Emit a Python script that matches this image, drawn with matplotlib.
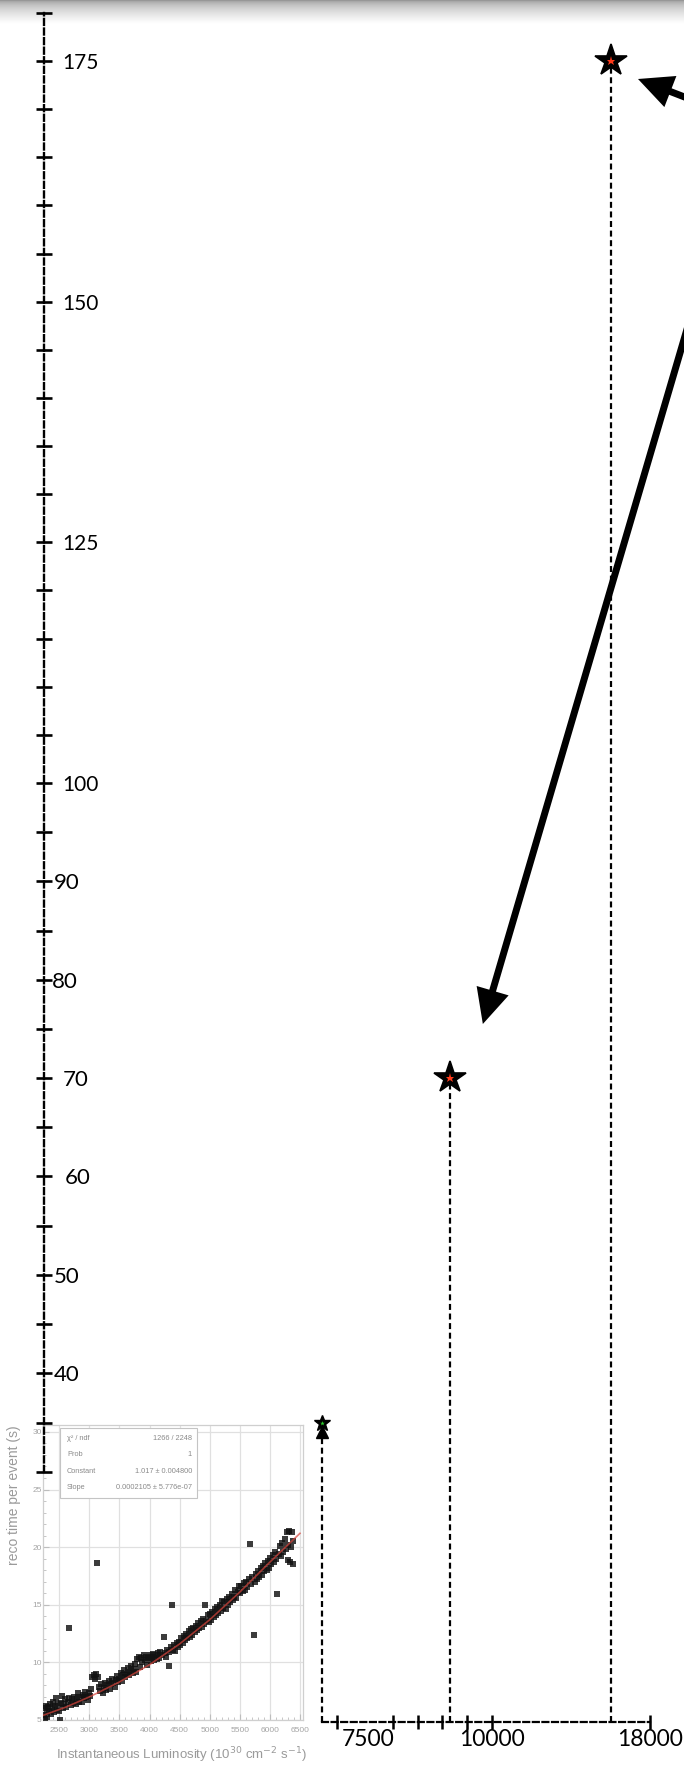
import numpy as np
import matplotlib
matplotlib.use("Agg")
import matplotlib.pyplot as plt
from matplotlib.transforms import ScaledTranslation
from matplotlib.patches import Rectangle
from matplotlib.ticker import MultipleLocator

plt.rcParams["font.family"] = ["Lato", "DejaVu Sans"]
plt.rcParams["lines.scale_dashes"] = False

# ---------------- data ----------------
# reconstruction time (s) against instantaneous luminosity (1e30 cm^-2 s^-1)
Y_TICKS = list(range(30, 181, 5))
Y_LABEL_VALUES = [40, 50, 60, 70, 80, 90, 100, 125, 150, 175]
X_LABEL_VALUES = [7500, 10000, 18000]
X_MINOR_VALUES = [7000, 8000, 8500, 9000, 9500]

STAR_LUMI = [6750, 9150, 16000]
STAR_TIME = [35, 70, 175]

# measured reco time per event (inset scatter)
SCAN_LUMI = [
    2240, 2255, 2265, 2280, 2290, 2300, 2315, 2330, 2345, 2360, 2380, 2395, 2410, 2430, 2450,
    2465, 2480, 2500, 2517, 2530, 2545, 2560, 2580, 2600, 2620, 2640, 2655, 2670, 2690, 2710,
    2730, 2750, 2770, 2790, 2810, 2830, 2850, 2870, 2890, 2910, 2930, 2950, 2970, 2990,
    3010, 3030, 3050, 3070, 3090, 3110, 3126, 3140, 3160, 3180, 3200, 3220, 3240, 3260, 3280,
    3300, 3320, 3340, 3360, 3380, 3400, 3420, 3440, 3460, 3480,
    3500, 3520, 3540, 3560, 3580, 3600, 3620, 3640, 3660, 3680, 3700, 3720, 3740, 3760, 3780,
    3800, 3820, 3840, 3860, 3880, 3900, 3920, 3940, 3960, 3980, 4000, 4020, 4040, 4060, 4080,
    4100, 4120, 4140, 4160, 4180, 4200, 4233, 4250, 4270, 4290, 4316, 4330, 4350, 4372, 4390,
    4410, 4430, 4450, 4470, 4490,
    4510, 4530, 4550, 4570, 4590, 4610, 4630, 4650, 4670, 4690, 4710, 4730, 4750, 4770, 4790,
    4810, 4830, 4850, 4870, 4890, 4910, 4925, 4945, 4965, 4985, 5005, 5025, 5045, 5065, 5085,
    5105, 5125, 5145, 5165, 5185, 5205, 5225, 5245, 5265, 5285, 5305, 5325, 5345, 5365, 5385,
    5405, 5425, 5445, 5465, 5485,
    5505, 5525, 5545, 5565, 5585, 5605, 5625, 5645, 5673, 5690, 5710, 5728, 5745, 5765, 5785,
    5805, 5825, 5845, 5865, 5885, 5905, 5925, 5945, 5965, 5985, 6005, 6025, 6045, 6065, 6085,
    6105, 6126, 6145, 6165, 6185, 6205, 6225, 6245, 6265, 6285, 6300, 6305, 6325, 6340, 6345,
    6365, 6380, 6385,
]
SCAN_TIME = [
    5.4, 6.0, 5.1, 6.2, 5.7, 5.3, 6.1, 5.8, 6.4, 5.5, 6.0, 6.6, 5.7, 6.2, 6.9,
    5.9, 6.4, 5.8, 5.0, 6.5, 7.1, 6.0, 6.4, 6.8, 6.1, 6.6, 13.0, 6.9, 6.3, 6.8,
    6.5, 7.0, 6.4, 6.8, 7.3, 6.6, 7.0, 6.6, 7.2, 6.9, 7.4, 7.0, 6.7, 7.3,
    7.1, 7.7, 8.7, 8.9, 8.6, 9.0, 18.6, 8.7, 7.9, 7.5, 8.1, 7.3, 7.8, 8.2, 7.6,
    8.0, 8.4, 7.7, 8.1, 8.6, 8.2, 7.9, 8.5, 8.8, 8.3,
    8.6, 9.1, 8.4, 8.9, 9.3, 8.7, 9.0, 9.5, 8.9, 9.2, 9.7, 9.1, 9.4, 9.9, 9.2,
    10.3, 10.5, 9.6, 10.4, 10.0, 10.6, 10.2, 10.5, 9.8, 10.4, 10.6, 10.1, 10.5, 10.7, 10.2,
    10.6, 10.3, 10.8, 10.4, 10.9, 10.6, 12.2, 10.8, 10.5, 11.1, 9.7, 10.9, 11.3, 15.0, 11.1,
    11.5, 11.0, 11.7, 11.3, 11.8,
    11.5, 12.1, 11.7, 12.3, 11.9, 12.5, 12.1, 12.7, 12.2, 12.9, 12.4, 13.0, 12.6, 13.2, 12.8,
    13.4, 13.0, 13.6, 13.1, 13.8, 13.3, 15.0, 13.6, 14.1, 13.5, 14.2, 13.7, 14.4, 13.9, 14.6,
    14.1, 14.8, 14.3, 15.0, 14.5, 15.3, 14.7, 15.2, 14.6, 15.5, 15.0, 15.7, 15.2, 15.9, 15.4,
    15.7, 16.3, 15.6, 16.1, 16.6,
    16.0, 16.6, 16.2, 16.9, 16.3, 17.0, 16.5, 17.2, 20.3, 16.8, 17.4, 12.4, 17.0, 17.7, 17.2,
    17.9, 17.4, 18.2, 17.6, 18.4, 17.9, 18.6, 18.0, 18.8, 18.2, 19.1, 18.5, 19.3, 18.7, 19.6,
    19.0, 15.9, 19.4, 20.1, 19.2, 20.4, 19.6, 20.7, 19.8, 21.3, 18.9, 20.2, 21.4, 18.7, 20.0,
    21.3, 18.5, 20.5,
]
FIT_LUMI = [2230, 2600, 3000, 3500, 4000, 4500, 5000, 5500, 6000, 6500]
FIT_TIME = [5.4, 6.1, 7.0, 8.3, 9.8, 11.6, 13.7, 16.1, 18.7, 21.2]

INSET_X_TICKS = [2500, 3000, 3500, 4000, 4500, 5000, 5500, 6000, 6500]
INSET_Y_TICKS = [5, 10, 15, 20, 25, 30]
STATS_NAMES = ["χ² / ndf", "Prob", "Constant", "Slope"]
STATS_VALUES = ["1266 / 2248", "1", "1.017 ± 0.004800", "0.0002105 ± 5.776e-07"]

# ---------------- figure & scales ----------------
W, H, DPI = 684, 1766, 100
fig = plt.figure(figsize=(W / DPI, H / DPI), dpi=DPI)
fig.patch.set_facecolor("white")


def fig_x(px):
    return px / W


def fig_h(px):
    return px / H


def fig_y(px):
    return 1.0 - px / H


# hand-drawn axes: piecewise-linear calibration between the drawn ticks
Y_KNOT_VAL = np.array([0.0, 30.0, 40.0, 100.0, 175.0, 185.0])
Y_KNOT_PX = np.array([1769.0, 1472.0, 1373.0, 783.0, 61.0, -35.3])
X_KNOT_VAL = np.array([6000.0, 7000.0, 7500.0, 10000.0, 18000.0, 30000.0])
X_KNOT_PX = np.array([275.0, 337.0, 368.0, 492.0, 650.0, 887.0])


def y_forward(v):
    return -np.interp(v, Y_KNOT_VAL, Y_KNOT_PX)


def y_inverse(u):
    return np.interp(u, -Y_KNOT_PX, Y_KNOT_VAL)


def x_forward(v):
    return np.interp(v, X_KNOT_VAL, X_KNOT_PX)


def x_inverse(p):
    return np.interp(p, X_KNOT_PX, X_KNOT_VAL)


X_MIN, X_MAX = 6750, 18000
Y_MAX = 180
BASE_PX = 1722
V_BASE = float(y_inverse(-BASE_PX))
top_px = float(-y_forward(Y_MAX))
left_px = float(x_forward(X_MIN))
right_px = float(x_forward(X_MAX))

DASH = (0, (4.3, 2.6))

# window shadow along the top edge
shade = fig.add_axes([0, fig_y(24), 1, fig_h(24)])
ramp = np.linspace(0, 1, 48)[:, None]
shade.imshow(0.56 + 0.44 * np.sqrt(ramp), cmap="gray", vmin=0, vmax=1,
             aspect="auto", extent=(0, 1, 1, 0), interpolation="bilinear")
shade.axis("off")

# ---------------- inset: measured timing vs luminosity ----------------
ins_font = "Liberation Sans"
ins = fig.add_axes([fig_x(43), fig_y(1720), fig_x(260), fig_h(295)])
ins.plot(SCAN_LUMI, SCAN_TIME, ls="none", marker="s", ms=4.0, mew=0,
         color="#111111", alpha=0.82, zorder=3)
ins.plot(FIT_LUMI, FIT_TIME, color="#d9443b", lw=1.2, alpha=0.7, zorder=4)
ins.set_xlim(2230, 6550)
ins.set_ylim(5.0, 30.6)
ins.set_xticks(INSET_X_TICKS)
ins.set_yticks(INSET_Y_TICKS)
ins.xaxis.set_minor_locator(MultipleLocator(100))
ins.yaxis.set_minor_locator(MultipleLocator(1))
ins.grid(True, which="major", color="#e0e0e0", lw=0.9)
ins.tick_params(which="both", direction="in", color="#bdbdbd",
                labelcolor="#a5a5a5", labelsize=6)
ins.tick_params(which="major", length=4)
ins.tick_params(which="minor", length=2)
ins.tick_params(axis="y", pad=1)
ins.tick_params(axis="x", pad=5)
for lbl in ins.get_xticklabels() + ins.get_yticklabels():
    lbl.set_family(ins_font)
for sp in ins.spines.values():
    sp.set_color("#cfcfcf")
    sp.set_linewidth(0.9)
ins.set_xlabel("Instantaneous Luminosity (10$^{30}$ cm$^{-2}$ s$^{-1}$)",
               loc="right", color="#9a9a9a", fontsize=9.5, family=ins_font)
ins.xaxis.set_label_coords(1.015, -0.085)
ins.set_ylabel("reco time per event (s)", loc="top", color="#9a9a9a",
               fontsize=10, family=ins_font)
ins.yaxis.set_label_coords(-0.085, 1.0)

ins.add_patch(Rectangle((0.065, 0.753), 0.527, 0.237, transform=ins.transAxes,
                        fc="white", ec="#c4c4c4", lw=0.8, zorder=5))
for k, (name, val) in enumerate(zip(STATS_NAMES, STATS_VALUES)):
    yy = 0.955 - k * 0.056
    ins.text(0.092, yy, name, transform=ins.transAxes, fontsize=5.3,
             color="#8a8a8a", family=ins_font, va="center", ha="left", zorder=6)
    ins.text(0.573, yy, val, transform=ins.transAxes, fontsize=5.3,
             color="#8a8a8a", family=ins_font, va="center", ha="right", zorder=6)

# ---------------- main axes: projected timing ----------------
ax = fig.add_axes([fig_x(left_px), fig_y(BASE_PX),
                   fig_x(right_px - left_px), fig_h(BASE_PX - top_px)])
ax.set_xscale("function", functions=(x_forward, x_inverse))
ax.set_yscale("function", functions=(y_forward, y_inverse))
ax.set_xlim(X_MIN, X_MAX)
ax.set_ylim(V_BASE, Y_MAX)
ax.patch.set_visible(False)
for side in ("top", "right", "left"):
    ax.spines[side].set_visible(False)
ax.spines["bottom"].set_linestyle(DASH)
ax.spines["bottom"].set_linewidth(1.6)
ax.set_yticks([])
ax.set_xticks(X_LABEL_VALUES)
ax.set_xticklabels([str(v) for v in X_LABEL_VALUES])
ax.set_xticks(X_MINOR_VALUES, minor=True)
ax.tick_params(axis="x", which="both", direction="inout", length=9.5,
               width=1.8, pad=0.5, labelsize=16.5)
ax.xaxis.get_major_ticks()[0].tick1line.set_visible(False)

for lum, t in zip(STAR_LUMI, STAR_TIME):
    ax.plot([lum, lum], [V_BASE, t], color="black", lw=1.6, ls=DASH,
            clip_on=False, zorder=2)

# green marker: arrow head topped by a small star
ax.plot(STAR_LUMI[0], STAR_TIME[0], marker="^", ms=9, color="black",
        clip_on=False, zorder=4,
        transform=ax.transData + ScaledTranslation(0, -9 / DPI, fig.dpi_scale_trans))
ax.plot(STAR_LUMI[0], STAR_TIME[0], marker="*", ms=12, color="black",
        mec="black", clip_on=False, zorder=5)
ax.plot(STAR_LUMI[0], STAR_TIME[0], marker="*", ms=3.5, color="#2fd12f",
        mew=0, clip_on=False, zorder=6)
for lum, t in zip(STAR_LUMI[1:], STAR_TIME[1:]):
    ax.plot(lum, t, marker="*", ms=24, color="black", mec="black", mew=1.2,
            clip_on=False, zorder=5)
    ax.plot(lum, t, marker="*", ms=6.5, color="#ff3a1a", mew=0,
            clip_on=False, zorder=6)


def pointer(idx, tip_px, tail_px):
    shift = ScaledTranslation(tip_px[0] / DPI, -tip_px[1] / DPI, fig.dpi_scale_trans)
    ax.annotate("", xy=(STAR_LUMI[idx], STAR_TIME[idx]), xycoords=ax.transData + shift,
                xytext=(tail_px[0] * 72 / DPI, -tail_px[1] * 72 / DPI),
                textcoords="offset points", annotation_clip=False,
                arrowprops=dict(arrowstyle="simple,head_length=2.5,head_width=2.4,tail_width=0.5",
                                mutation_scale=10, fc="black", ec="none",
                                shrinkA=0, shrinkB=0), zorder=7)


pointer(2, (27.5, 18), (62, 24))
pointer(1, (33, -54), (217, -738.5))

# ---------------- hand-drawn vertical axis ----------------
ay = fig.add_axes([fig_x(44), fig_y(BASE_PX), 0.4 / W, fig_h(BASE_PX - top_px)])
ay.set_yscale("function", functions=(y_forward, y_inverse))
ay.set_ylim(V_BASE, Y_MAX)
ay.patch.set_visible(False)
ay.xaxis.set_visible(False)
for side in ("top", "right", "bottom"):
    ay.spines[side].set_visible(False)
ay.spines["left"].set_bounds(30, 180)
ay.spines["left"].set_linestyle(DASH)
ay.spines["left"].set_linewidth(1.7)
ay.set_yticks(Y_TICKS)
ay.set_yticklabels([str(v) if v in Y_LABEL_VALUES else "" for v in Y_TICKS])
ay.tick_params(axis="y", left=True, right=False, labelleft=False, labelright=True,
               direction="inout", length=11.5, width=1.9, pad=7, labelsize=15)

# the hand-placed labels sit at slightly different distances from the axis
label_shift_px = {"90": -8, "80": -10, "70": 1, "60": 3, "50": -8, "40": -8}
for tick in ay.yaxis.get_major_ticks():
    txt = tick.label2.get_text()
    if txt in label_shift_px:
        tick.label2.set_fontsize(16)
        shift = ScaledTranslation(label_shift_px[txt] / DPI, 0, fig.dpi_scale_trans)
        tick.label2.set_transform(tick.label2.get_transform() + shift)

fig.savefig("out.png", dpi=DPI)
